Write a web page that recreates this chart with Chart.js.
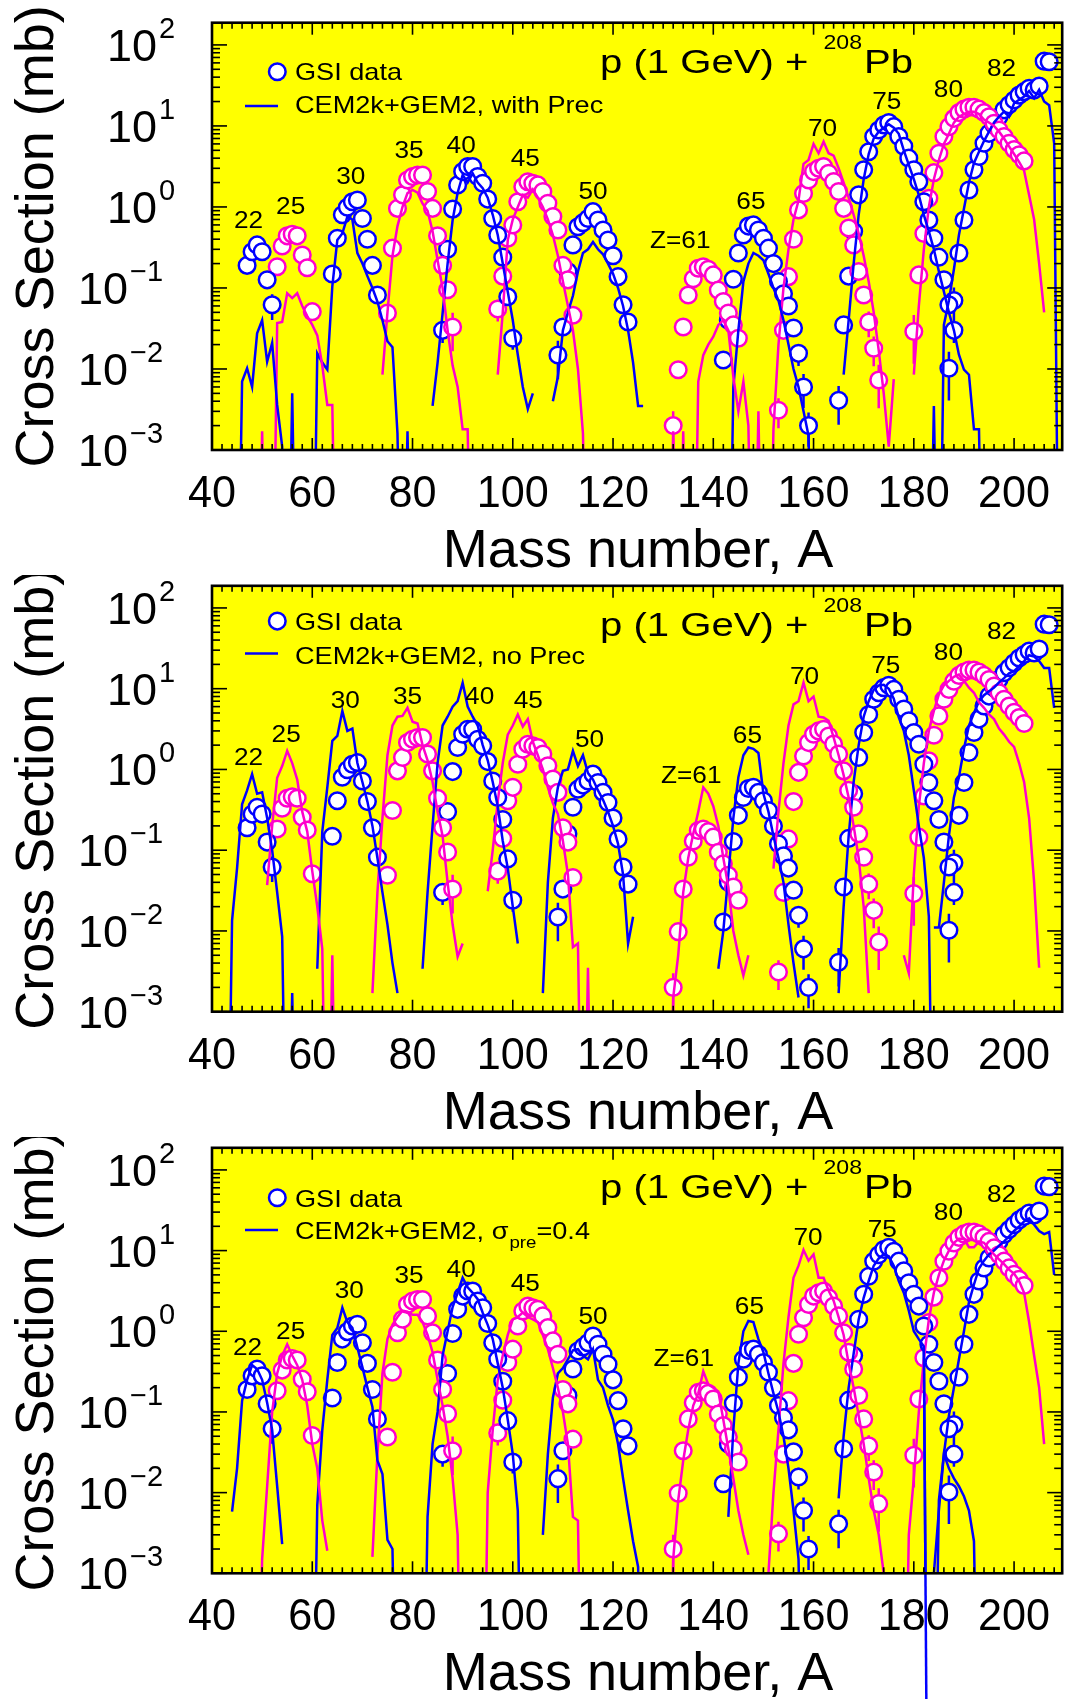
<!DOCTYPE html>
<html><head><meta charset="utf-8">
<script src="https://cdn.jsdelivr.net/npm/chart.js@4.4.1/dist/chart.umd.min.js"></script>
<style>
html,body{margin:0;padding:0;background:#fff;}
#wrap{position:relative;width:1073px;height:1699px;overflow:hidden;background:#fff;}
canvas{position:absolute;left:0;}
</style></head><body>
<div id="wrap">
<canvas id="c1" width="1073" height="575" style="top:0px"></canvas>
<canvas id="c2" width="1073" height="562" style="top:575px"></canvas>
<canvas id="c3" width="1073" height="562" style="top:1137px"></canvas>
</div>
<script>
// ---------- categories / ticks ----------
const BLUE = '#0000ff', MAG = '#ff00cc';
const Z_LIST  = [22,25,30,35,40,45,50,61,65,70,75,80,82];
const Z_COLOR = [BLUE,MAG,BLUE,MAG,BLUE,MAG,BLUE,MAG,BLUE,MAG,BLUE,MAG,BLUE];
const X_TICKS = [40,60,80,100,120,140,160,180,200];
const Y_DECADES = [-3,-2,-1,0,1,2];
const X_MIN = 40, X_MAX = 209.6, Y_MIN = 0.001, Y_MAX = 188;

// ---------- GSI data (first mass number of each chain, then values in mb) ----------
const gsiA0 = [47,53,64,75,86,97,109,132,142,153,165,180,187];
const gsi22 = [0.19,0.28,0.34,0.28,0.126,0.062];
const gsi25 = [0.183,0.33,0.44,0.46,0.44,0.255,0.178,0.051];
const gsi30 = [0.149,0.41,0.80,0.99,1.16,1.22,0.72,0.40,0.19,0.082];
const gsi35 = [0.049,0.31,0.96,1.41,2.15,2.37,2.48,2.48,1.55,0.96,0.44,0.19,0.095,0.033];
const gsi40 = [0.030,0.30,0.94,1.87,2.73,3.15,3.15,2.37,1.96,1.25,0.72,0.45,0.24,0.078,0.024];
const gsi45 = [0.055,0.14,0.41,0.60,1.16,1.78,2.05,1.96,1.87,1.55,1.11,0.76,0.52,0.19,0.126,0.046];
const gsi50 = [0.0149,0.033,0.16,0.34,0.57,0.64,0.72,0.875,0.69,0.52,0.39,0.25,0.138,0.062,0.038];
const gsi61 = [0.002,0.0098,0.033,0.082,0.13,0.175,0.183,0.17,0.145,0.094,0.068,0.049,0.035,0.024];
const gsi65 = [0.0129,0.04,0.128,0.27,0.45,0.58,0.60,0.52,0.41,0.31,0.2,0.12,0.085,0.06,0.032,0.0156,0.006,0.002];
const gsi70 = [0.0031,0.030,0.138,0.40,0.92,1.47,2.15,2.73,3.0,3.15,2.6,2.06,1.55,0.96,0.55,0.34,0.16,0.082,0.038,0.018,0.0073];
const gsi75 = [0.0041,0.035,0.14,0.50,1.41,2.87,4.8,7.4,8.9,10.3,11.0,9.8,7.4,5.6,4.0,2.87,2.05,1.16,0.69,0.41,0.24,0.126,0.062,0.03];
const gsi80 = [0.029,0.145,0.47,1.28,2.65,4.6,7.4,9.8,12.4,14.6,16.1,17,17,16.1,14.6,13,10.8,8.9,7.4,6.1,5.1,4.4,3.7];
const gsi82 = [0.0102,0.07,0.27,0.69,1.62,2.87,4.2,6.1,8.1,10.3,13,15.8,18.2,20.9,24,26.5,29.2,27.7,31,63,62];
const GSI = [gsi22,gsi25,gsi30,gsi35,gsi40,gsi45,gsi50,gsi61,gsi65,gsi70,gsi75,gsi80,gsi82];

// ---------- GSI error bars: [Z, A, relative error] ----------
const ERR_Z = [22,35,40,40,45,50,50,61,65,65,65,65,70,70,70,70,75,75,75,80,82,82];
const ERR_A = [52,88,86,100,97,109,110,132,142,157,158,159,153,171,172,173,165,166,188,180,187,188];
const ERR_R = [0.35,0.5,0.3,0.28,0.3,0.5,0.15,0.5,0.2,0.3,0.45,0.45,0.4,0.35,0.4,0.55,0.5,0.2,0.3,0.6,0.6,0.45];

// ---------- Panel 1: CEM2k+GEM2, with Prec ----------
const p1A0 = [45,49,60,74,84,97,108,131,143,151,166,180,183];
const p1z22 = [1e-6,0.0070,0.0102,0.006,0.0275,0.040,0.0123,0.021,0.0036,0.0011,1e-6,0.005,1e-6];
const p1z25 = [1e-6,0.0017,1e-6,1e-6,0.037,0.038,0.086,0.075,0.086,0.06,0.045,0.035,0.026,0.011,0.0036,0.0036,1e-6];
const p1z30 = [1e-6,0.0156,0.012,0.0098,0.105,0.39,0.47,0.76,0.70,0.27,0.2,0.14,0.1,0.068,0.04,0.022,0.0186,0.0016,1e-6,0.0017,1e-6];
const p1z35 = [0.0085,0.05,0.25,0.58,1.0,1.48,1.62,1.5,1.1,0.9,0.5,0.22,0.1,0.03,0.011,0.006,0.0018,0.0018,1e-6];
const p1z40 = [0.0035,0.012,0.049,0.2,0.69,1.5,2.48,2.0,2.6,2.0,1.7,1.3,0.8,0.45,0.2,0.09,0.04,0.015,0.006,0.0032,0.005];
const p1z45 = [0.0085,0.05,0.39,0.7,1.0,1.4,1.3,1.65,1.3,1.0,0.7,0.45,0.25,0.12,0.06,0.03,0.01,0.0016,1e-6];
const p1z50 = [0.004,0.008,0.03,0.05,0.08,0.16,0.27,0.3,0.37,0.3,0.26,0.2,0.15,0.1,0.06,0.03,0.012,0.0035,0.0035];
const p1z61 = [1e-6,0.0017,1e-6,0.0017,1e-6,1e-6,0.007,0.0148,0.02,0.025,0.035,0.04,0.03,0.008,0.003,0.007,0.002,1e-6,0.003,1e-6];
const p1z65 = [1e-6,0.006,0.03,0.12,0.2,0.27,0.25,0.22,0.15,0.1,0.07,0.04,0.02,0.01,0.006,0.003,0.0015,1e-6];
const p1z70 = [1e-6,0.0018,0.02,0.1,0.3,0.7,1.2,3.4,3.8,6.0,4.6,6.4,4.6,4.3,3.0,2.0,1.3,0.8,0.47,0.25,0.12,0.05,0.017,0.005,0.0011,0.0075];
const p1z75 = [0.0085,0.04,0.2,0.8,2.2,4.5,7,8.5,9.5,10.5,9.5,8,5,3.3,2.2,1.4,0.8,0.5,0.3,0.16,0.09,0.05,0.03,0.015,0.0098,0.0085,0.0018,0.0018,1e-6];
const p1z80 = [0.0085,0.06,0.3,1.0,2.2,3.8,6,8,11,13,14,15,15,14,12,11,10,8.5,7,5.6,4.5,3.6,2.8,1.4,0.7,0.2,0.05];
const p1z82 = [1e-6,0.0035,1e-6,0.035,0.07,0.17,0.45,0.95,2.0,3.5,4.8,6.5,8.5,11,13,15,13,19,21,23,27,22,28,20,18,6.1,1e-6];

// ---------- Panel 2: CEM2k+GEM2, no Prec ----------
const p2A0 = [43,51,61,72,82,95,106,131,141,152,165,178,184];
const p2z22 = [1e-6,0.0134,0.06,0.37,0.55,0.875,0.5,0.52,0.25,0.1,0.03,0.0085,1e-6,0.0017,1e-6];
const p2z25 = [0.037,0.2,0.79,1.1,1.7,1.2,0.75,0.3,0.17,0.055,0.02,0.006,1e-6,0.005,1e-6];
const p2z30 = [0.0034,0.17,0.6,2.26,2.6,5.3,3.0,3.2,1.2,0.7,0.4,0.2,0.08,0.03,0.012,0.004,0.0017];
const p2z35 = [0.0017,0.03,0.25,1.5,3.5,4.5,4.6,5.8,3.9,3.7,2.0,1.3,0.7,0.3,0.15,0.04,0.012,0.0048,0.007];
const p2z40 = [0.0034,0.03,0.2,1.2,3.5,4.5,6,7,11.8,6,4.5,3.5,2.0,1.3,0.7,0.35,0.13,0.06,0.02,0.007];
const p2z45 = [0.031,0.1,0.4,1.2,2.7,3.5,4.8,3.4,4.2,2.2,1.5,1.0,0.6,0.38,0.28,0.13,0.05,0.0063,0.007,1e-6,0.0035,1e-6];
const p2z50 = [0.0017,0.04,0.25,0.6,0.96,1.0,1.7,1.1,1.5,0.9,0.75,0.55,0.42,0.3,0.2,0.12,0.05,0.007,0.015];
const p2z61 = [1e-6,0.0015,0.005,0.03,0.08,0.16,0.3,0.6,0.5,0.35,0.2,0.08,0.035,0.01,0.005,0.0028,0.005];
const p2z65 = [0.0034,0.01,0.05,0.25,0.8,1.5,1.87,1.8,1.6,0.5,0.3,0.15,0.08,0.04,0.012,0.004,0.0015];
const p2z70 = [0.059,0.3,1.2,3.5,6.4,7,11.9,7,8,4.5,4.4,4.0,2.5,1.5,0.85,0.45,0.2,0.08,0.02,0.0017];
const p2z75 = [0.0017,0.02,0.15,0.7,2.0,4.5,7,9.7,11,11.2,10,7.5,4.4,3,1.5,0.55,0.2,0.08,0.015,1e-6];
const p2z80 = [0.005,0.003,0.05,0.35,1.2,3.0,5.3,8.5,11,12.5,14,15,12.5,10.3,8.9,6.8,5.8,4.8,4.2,3.2,2.7,2.2,1.9,1.2,0.7,0.25,0.04,0.0035];
const p2z82 = [0.011,0.011,0.04,0.15,0.45,0.8,1.8,3.5,5.0,7.0,8.3,9.3,10.3,12,13.5,15.5,16.5,19,22,26,25,22,18,18,5.8];

// ---------- Panel 3: CEM2k+GEM2, sigma_pre = 0.4 ----------
const p3A0 = [44,49,60,72,82,94,106,131,143,150,165,178,184];
const p3z22 = [0.0058,0.02,0.138,0.25,0.38,0.34,0.25,0.13,0.06,0.012,0.0023];
const p3z25 = [1e-6,0.0015,0.012,0.1,0.3,0.5,0.69,0.5,0.38,0.25,0.12,0.04,0.02,0.0045,0.0019];
const p3z30 = [1e-6,0.007,0.06,0.25,0.9,1.1,1.96,1.3,1.1,0.63,0.36,0.2,0.115,0.025,0.017,0.0026,0.002,1e-6];
const p3z35 = [0.0016,0.03,0.3,0.8,1.2,1.5,1.8,1.75,1.6,1.6,1.3,0.9,0.55,0.25,0.12,0.05,0.015,0.003,1e-6];
const p3z40 = [1e-6,0.005,0.04,0.1,0.5,1.0,2.0,3.0,4.6,3.5,3.0,2.5,1.7,1.2,0.8,0.4,0.2,0.08,0.03,0.006,1e-6];
const p3z45 = [1e-6,0.01,0.06,0.25,0.5,0.9,1.4,1.5,1.7,1.5,1.4,1.3,0.9,0.6,0.35,0.2,0.1,0.04,0.005,0.0045,1e-6];
const p3z50 = [0.003,0.03,0.15,0.3,0.35,0.45,0.58,0.6,0.5,0.45,0.6,0.25,0.2,0.12,0.08,0.04,0.015,0.006,0.0025,0.0012,1e-6];
const p3z61 = [1e-6,0.0015,0.008,0.025,0.06,0.12,0.17,0.32,0.22,0.2,0.18,0.08,0.035,0.015,0.006,0.003,0.0017];
const p3z65 = [0.005,0.06,0.4,1.0,1.34,1.3,0.8,0.55,0.3,0.17,0.1,0.05,0.02,0.006,0.0015,1e-6];
const p3z70 = [1e-6,0.001,0.01,0.06,0.4,1.5,4.6,6.5,10.2,7.5,9,4.6,4.6,3.2,2.4,1.5,0.9,0.4,0.2,0.09,0.04,0.015,0.006,0.003,0.001];
const p3z75 = [0.0085,0.05,0.2,0.53,1.4,2.6,4.2,6.5,8,9,8.5,6.5,4.2,3,1.8,1.0,0.8,0.65,1e-9,0.001,0.006,0.03,0.02,0.015,0.012,0.009,0.006,0.0025,1e-6];
const p3z80 = [1e-6,0.003,0.015,0.1,0.45,1.4,3.0,5,7.5,10,12.5,14,14,11,11,13,12.5,10.5,9,7.8,6.8,5.8,5.2,4.2,3,1.3,0.5,0.2,0.04];
const p3z82 = [1e-6,0.008,0.03,0.09,0.2,0.45,1.0,2.3,3.8,6,7.5,9,10,11.5,13,15,17.5,20,23,25,21,17.5,16,17,5];

// ---------- Z labels (mass-number position, cross-section position) ----------
const lab1A = [47.3,55.7,67.7,79.3,89.7,102.5,116.0,133.4,147.5,161.8,174.6,186.9,197.5];
const lab1Y = [0.546,0.81,1.9,4.06,4.68,3.24,1.26,0.315,0.944,7.59,16.2,23,41.4];
const lab2A = [47.3,54.8,66.6,79.0,93.4,103.1,115.3,135.6,146.8,158.2,174.4,186.9,197.5];
const lab2Y = [1.14,2.2,5.8,6.5,6.5,5.8,1.92,0.68,2.15,11.3,15.5,22.6,40.7];
const lab3A = [47.1,55.7,67.4,79.3,89.7,102.5,116.0,134.1,147.2,158.9,173.7,186.9,197.5];
const lab3Y = [0.51,0.80,2.6,3.98,4.68,3.2,1.24,0.373,1.65,11.6,14.7,23.7,40.6];

const PANELS = [
  {id:'c1', A0:p1A0, arrs:[p1z22,p1z25,p1z30,p1z35,p1z40,p1z45,p1z50,p1z61,p1z65,p1z70,p1z75,p1z80,p1z82],
   labA:lab1A, labY:lab1Y, leg:'CEM2k+GEM2, with Prec', legDY:[49,57.3,83.3,90.6], T:22.7, B:125},
  {id:'c2', A0:p2A0, arrs:[p2z22,p2z25,p2z30,p2z35,p2z40,p2z45,p2z50,p2z61,p2z65,p2z70,p2z75,p2z80,p2z82],
   labA:lab2A, labY:lab2Y, leg:'CEM2k+GEM2, no Prec', legDY:[35.3,44.3,67.7,77.7], T:9, B:125.3},
  {id:'c3', A0:p3A0, arrs:[p3z22,p3z25,p3z30,p3z35,p3z40,p3z45,p3z50,p3z61,p3z65,p3z70,p3z75,p3z80,p3z82],
   labA:lab3A, labY:lab3Y, leg:null, legDY:[50,59,82.3,91.3], T:9, B:125.7, escape:[10,17,19]}
];

const FONT = '"Liberation Sans", Arial, Helvetica, sans-serif';
function txt(ctx, s, x, y, size, sx, align){
  ctx.save();
  ctx.font = size + 'px ' + FONT;
  const w = ctx.measureText(s).width * sx;
  let x0 = x;
  if (align === 'center') x0 = x - w/2; else if (align === 'right') x0 = x - w;
  ctx.translate(x0, y); ctx.scale(sx, 1);
  ctx.textAlign = 'left'; ctx.textBaseline = 'alphabetic'; ctx.fillStyle = '#000';
  ctx.fillText(s, 0, 0);
  ctx.restore();
  return x0 + w;
}
function seg(ctx,x1,y1,x2,y2){ctx.beginPath();ctx.moveTo(x1,y1);ctx.lineTo(x2,y2);ctx.stroke();}

function makeDeco(P){
  return {
    id:'deco'+P.id,
    beforeDatasetsDraw(chart){
      const {ctx, chartArea:a} = chart;
      const xs = chart.scales.x, ys = chart.scales.y;
      ctx.save(); ctx.fillStyle = '#ffff00';
      ctx.fillRect(a.left, a.top, a.right-a.left, a.bottom-a.top);
      // error bars (covered by the circles' white fill)
      ctx.beginPath(); ctx.rect(a.left, a.top, a.right-a.left, a.bottom-a.top); ctx.clip();
      ctx.lineWidth = 2.5;
      for (let k = 0; k < ERR_Z.length; k++){
        const zi = Z_LIST.indexOf(ERR_Z[k]);
        const v = GSI[zi][ERR_A[k] - gsiA0[zi]];
        if (v === undefined) continue;
        const r = ERR_R[k];
        const x = xs.getPixelForValue(ERR_A[k]);
        const y1 = ys.getPixelForValue(v * (1 + r));
        const y2 = ys.getPixelForValue(Math.max(v * (1 - r), 1e-5));
        ctx.strokeStyle = Z_COLOR[zi];
        seg(ctx, x, y1, x, y2);
      }
      ctx.restore();
    },
    afterDraw(chart){
      const {ctx, chartArea:a} = chart;
      const xs = chart.scales.x, ys = chart.scales.y;
      ctx.save();
      ctx.strokeStyle = '#000'; ctx.lineWidth = 1.6;
      for (let v = 40; v <= 208; v += 2){
        const x = xs.getPixelForValue(v); const L = (v % 20 === 0) ? 12 : 6;
        seg(ctx, x, a.bottom, x, a.bottom - L); seg(ctx, x, a.top, x, a.top + L);
      }
      for (const d of Y_DECADES){
        for (let m = 1; m <= 9; m++){
          const v = m * Math.pow(10, d); if (v > Y_MAX) break;
          const y = ys.getPixelForValue(v); const L = (m === 1) ? 15 : 8;
          seg(ctx, a.left, y, a.left + L, y); seg(ctx, a.right, y, a.right - L, y);
        }
      }
      ctx.lineWidth = 2.6;
      ctx.strokeRect(a.left, a.top, a.right - a.left, a.bottom - a.top);
      // x tick labels
      for (const v of X_TICKS) txt(ctx, String(v), xs.getPixelForValue(v), a.bottom + 57, 45, 0.96, 'center');
      // y tick labels
      for (const d of Y_DECADES){
        const y = ys.getPixelForValue(Math.pow(10, d));
        const neg = d < 0;
        const e = neg ? '\u2212' + (-d) : String(d);
        txt(ctx, '10', neg ? 128 : 157, y + 16, 45, 1, 'right');
        txt(ctx, e, neg ? 130 : 159, y - 7, 29, 1, 'left');
      }
      // axis titles
      txt(ctx, 'Mass number, A', (a.left + a.right)/2 + 1, a.bottom + 117, 53, 1.02, 'center');
      ctx.save();
      ctx.translate(53, (a.top + a.bottom)/2); ctx.rotate(-Math.PI/2);
      txt(ctx, 'Cross Section (mb)', 0, 0, 54, 1, 'center');
      ctx.restore();
      // Z labels
      for (let i = 0; i < Z_LIST.length; i++){
        const s = Z_LIST[i] === 61 ? 'Z=61' : String(Z_LIST[i]);
        txt(ctx, s, xs.getPixelForValue(P.labA[i]), ys.getPixelForValue(P.labY[i]), 23, 1.14, 'center');
      }
      // reaction title
      txt(ctx, 'p (1 GeV) + ', a.left + 388, a.top + 50, 34, 1.18, 'left');
      txt(ctx, '208', a.left + 650, a.top + 26, 21, 1.1, 'right');
      txt(ctx, 'Pb', a.left + 652, a.top + 50.5, 34, 1.18, 'left');
      // legend
      const D = P.legDY;
      ctx.lineWidth = 2.5; ctx.strokeStyle = BLUE; ctx.fillStyle = '#fff';
      ctx.beginPath(); ctx.arc(a.left + 65.3, a.top + D[0], 8.3, 0, 2*Math.PI); ctx.fill(); ctx.stroke();
      seg(ctx, a.left + 33, a.top + D[2], a.left + 66, a.top + D[2]);
      txt(ctx, 'GSI data', a.left + 83, a.top + D[1], 24, 1.13, 'left');
      if (P.leg){
        txt(ctx, P.leg, a.left + 83, a.top + D[3], 24, 1.13, 'left');
      } else {
        let x = txt(ctx, 'CEM2k+GEM2, \u03c3', a.left + 83, a.top + D[3], 24, 1.13, 'left');
        x = txt(ctx, 'pre', x + 1, a.top + D[3] + 9, 17, 1.1, 'left');
        txt(ctx, '=0.4', x, a.top + D[3], 24, 1.13, 'left');
      }
      ctx.restore();
    }
  };
}

function pts(A0, arr){ return arr.map((v, i) => ({x: A0 + i, y: v})); }

for (const P of PANELS){
  const datasets = [];
  for (let i = 0; i < Z_LIST.length; i++){
    datasets.push({type:'line', data: pts(P.A0[i], P.arrs[i]), borderColor: Z_COLOR[i], borderWidth: 2.5,
      pointRadius: 0, fill: false, tension: 0, order: 0});
  }
  if (P.escape){
    const [k, s, e] = P.escape;
    datasets.push({type:'line', data: pts(P.A0[k] + s, P.arrs[k].slice(s, e)), borderColor: Z_COLOR[k], borderWidth: 2.5,
      pointRadius: 0, fill: false, tension: 0, order: 0, clip: false});
  }
  for (let i = 0; i < Z_LIST.length; i++){
    datasets.push({type:'scatter', data: pts(gsiA0[i], GSI[i]), pointRadius: 8.3, pointBorderWidth: 2.5,
      pointBackgroundColor: '#ffffff', pointBorderColor: Z_COLOR[i], borderColor: Z_COLOR[i],
      backgroundColor: '#ffffff', showLine: false, order: 1});
  }
  new Chart(document.getElementById(P.id), {
    type: 'scatter',
    data: {datasets},
    options: {
      responsive: false, animation: false, devicePixelRatio: 1, events: [],
      layout: {padding: {left: 212, right: 5, top: P.T, bottom: P.B}},
      plugins: {legend: {display: false}, tooltip: {enabled: false}},
      scales: {
        x: {type: 'linear', min: X_MIN, max: X_MAX, display: false},
        y: {type: 'logarithmic', min: Y_MIN, max: Y_MAX, display: false}
      }
    },
    plugins: [makeDeco(P)]
  });
}
</script>
</body></html>
